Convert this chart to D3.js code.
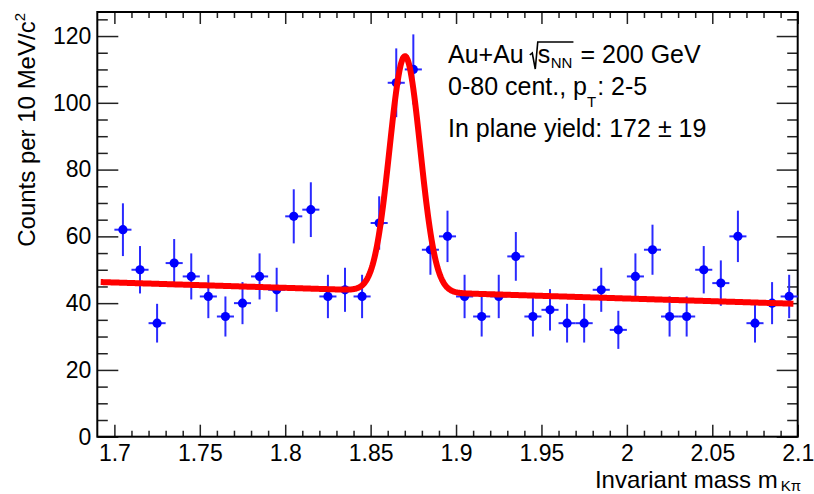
<!DOCTYPE html>
<html><head><meta charset="utf-8">
<script src="https://cdn.jsdelivr.net/npm/d3@7"></script>
<style>body{margin:0;background:#fff}text{font-family:"Liberation Sans",Arial,Helvetica,sans-serif}</style>
</head><body>
<script>
// ---- data ----
const masses = [1.705,1.715,1.725,1.735,1.745,1.755,1.765,1.775,1.785,1.795,
                1.805,1.815,1.825,1.835,1.845,1.855,1.865,1.875,1.885,1.895,
                1.905,1.915,1.925,1.935,1.945,1.955,1.965,1.975,1.985,1.995,
                2.005,2.015,2.025,2.035,2.045,2.055,2.065,2.075,2.085,2.095];
const counts = [62,50,34,52,48,42,36,40,48,44,
                66,68,42,44,42,64,106,110,56,60,
                42,36,42,54,36,38,34,34,44,32,
                48,56,36,36,50,46,60,34,40,42];
const errors = [7.9,7.1,5.8,7.2,6.9,6.5,6.0,6.3,6.9,6.6,
                8.1,8.2,6.5,6.6,6.5,8.0,10.3,10.5,7.5,7.7,
                6.5,6.0,6.5,7.3,6.0,6.2,5.8,5.8,6.6,5.7,
                6.9,7.5,6.0,6.0,7.1,6.8,7.7,5.8,6.3,6.5];
const binWidth = 0.01;
// fit: gaussian + linear background
const fitMean = 1.8701, fitSigma = 0.0090, fitAmp = 70.5;
const bgP0 = 73.39, bgP1 = -16.0;
const fitRange = [1.692, 2.0975];
const xTickValues = [1.7,1.75,1.8,1.85,1.9,1.95,2.0,2.05,2.1];
const xTickLabels = ["1.7","1.75","1.8","1.85","1.9","1.95","2","2.05","2.1"];
const yTickValues = [0,20,40,60,80,100,120];
const yTickLabels = ["0","20","40","60","80","100","120"];

// ---- layout ----
const W = 814, H = 494;
const L = 97.3, R = 797.7, T = 12, B = 436.7;
const svg = d3.select("body").append("svg").attr("width",W).attr("height",H);
const x = d3.scaleLinear().domain([1.69,2.1]).range([L,R]);
const y = d3.scaleLinear().domain([0,127.2]).range([B,T]);

const xMinor = d3.range(170,210).map(d=>d/100).filter(v=>!xTickValues.some(t=>Math.abs(t-v)<1e-9));
const yMinor = d3.range(0,126,5).filter(v=>v%20!==0);

function styleAxis(g){
  g.select(".domain").remove();
  g.selectAll(".tick line").attr("stroke","#222").attr("stroke-width",1.5);
  g.selectAll("text").attr("fill","#000").style("font-size","23px");
}
// bottom
svg.append("g").attr("transform",`translate(0,${B})`)
  .call(d3.axisBottom(x).tickValues(xTickValues).tickSize(-12).tickPadding(8)
        .tickFormat((d,i)=>xTickLabels[i])).call(styleAxis);
svg.append("g").attr("transform",`translate(0,${B})`)
  .call(d3.axisBottom(x).tickValues(xMinor).tickSize(-6).tickFormat("")).call(styleAxis);
// top
svg.append("g").attr("transform",`translate(0,${T})`)
  .call(d3.axisTop(x).tickValues(xTickValues).tickSize(-12).tickFormat("")).call(styleAxis);
svg.append("g").attr("transform",`translate(0,${T})`)
  .call(d3.axisTop(x).tickValues(xMinor).tickSize(-6).tickFormat("")).call(styleAxis);
// left
svg.append("g").attr("transform",`translate(${L},0)`)
  .call(d3.axisLeft(y).tickValues(yTickValues).tickSize(-21).tickPadding(6)
        .tickFormat((d,i)=>yTickLabels[i])).call(styleAxis);
svg.append("g").attr("transform",`translate(${L},0)`)
  .call(d3.axisLeft(y).tickValues(yMinor).tickSize(-10.5).tickFormat("")).call(styleAxis);
// right
svg.append("g").attr("transform",`translate(${R},0)`)
  .call(d3.axisRight(y).tickValues(yTickValues).tickSize(-21).tickFormat("")).call(styleAxis);
svg.append("g").attr("transform",`translate(${R},0)`)
  .call(d3.axisRight(y).tickValues(yMinor).tickSize(-10.5).tickFormat("")).call(styleAxis);

// frame
svg.append("rect").attr("x",L).attr("y",T).attr("width",R-L).attr("height",B-T)
  .attr("fill","none").attr("stroke","#000").attr("stroke-width",2);

// data points
const pts = svg.append("g");
masses.forEach((m,i)=>{
  const c = counts[i], e = errors[i];
  pts.append("line").attr("x1",x(m)).attr("x2",x(m)).attr("y1",y(c-e)).attr("y2",y(c+e))
    .attr("stroke","#2a2aff").attr("stroke-width",2);
  pts.append("line").attr("x1",x(m-binWidth/2)).attr("x2",x(m+binWidth/2)).attr("y1",y(c)).attr("y2",y(c))
    .attr("stroke","#2a2aff").attr("stroke-width",2);
  pts.append("circle").attr("cx",x(m)).attr("cy",y(c)).attr("r",4.6).attr("fill","#0000ff");
});

// fit curve
const fitFn = m => bgP0 + bgP1*m + fitAmp*Math.exp(-0.5*Math.pow((m-fitMean)/fitSigma,2));
const fitX = d3.range(0,801).map(i=>fitRange[0]+(fitRange[1]-fitRange[0])*i/800);
svg.append("path").datum(fitX)
  .attr("d",d3.line().x(d=>x(d)).y(d=>y(fitFn(d))))
  .attr("fill","none").attr("stroke","#ff0000").attr("stroke-width",6)
  .attr("stroke-linejoin","round");

// axis titles
const xt = svg.append("text").attr("x",801).attr("y",488).attr("text-anchor","end")
  .style("font-size","24px");
xt.append("tspan").text("Invariant mass m");
xt.append("tspan").attr("dx",3).attr("dy",2.5).style("font-size","15px").text("K\u03c0");

const yt = svg.append("text").attr("transform","translate(35,13) rotate(-90)")
  .attr("text-anchor","end").style("font-size","24px");
yt.append("tspan").text("Counts per 10 MeV/c");
yt.append("tspan").attr("dy",-10).style("font-size","15px").text("2");

// annotation
function piece(txt,x0,yb,size){
  const t = svg.append("text").attr("x",x0).attr("y",yb).style("font-size",size+"px").text(txt);
  return x0 + t.node().getComputedTextLength();
}
const ax = 448, fs = 25;
let cx = piece("Au+Au",ax,63,fs);
cx += 7;
// sqrt sign
const sx0 = cx;
cx += 7;
const sStart = cx;
cx = piece("s",cx,63,fs);
cx = piece("NN",cx+0.5,68,15);
const sEnd = cx + 1;
svg.append("path")
  .attr("d",`M${sx0-1},${55} L${sx0+1.5},${53} L${sx0+4.5},${69} L${sStart},${42} L${sEnd},${42}`)
  .attr("fill","none").attr("stroke","#000").attr("stroke-width",1.6);
piece("= 200 GeV",cx+8,63,fs);

cx = piece("0-80 cent., p",ax,95,fs);
cx = piece("T",cx,107,15);
piece(": 2-5",cx+1,95,fs);

piece("In plane yield: 172 \u00b1 19",ax,136.5,fs);
</script>
</body></html>
